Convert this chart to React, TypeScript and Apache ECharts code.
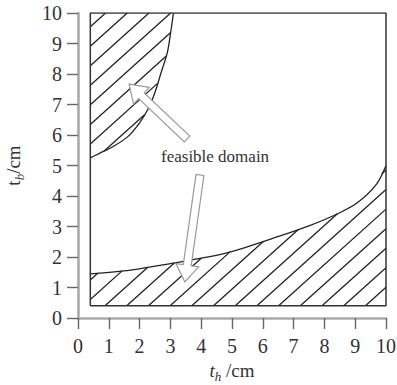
import React, { useEffect, useRef } from 'react';
import * as echarts from 'echarts';

// ---- data ----
const axisMin = 0;
const axisMax = 10;
const axisInterval = 1;

// upper-left boundary curve (t_h, t_b)
const upperCurveX = [0.4, 0.7, 1.1, 1.6, 2.0, 2.3, 2.5, 2.7, 2.9, 3.0, 3.1];
const upperCurveY = [5.25, 5.4, 5.6, 5.93, 6.4, 6.9, 7.4, 8.05, 8.7, 9.3, 10];

// lower boundary curve (t_h, t_b)
const lowerCurveX = [0.4, 1.7, 3.1, 4.0, 4.8, 5.4, 6.3, 7.5, 8.5, 9.1, 9.7, 10];
const lowerCurveY = [1.45, 1.57, 1.8, 1.96, 2.13, 2.3, 2.6, 3.02, 3.45, 3.8, 4.4, 5.0];

// design box
const boxX = [0.4, 10, 10, 0.4, 0.4];
const boxY = [0.4, 0.4, 10, 10, 0.4];

// annotation arrows (data coords)
const arrowTailX = [3.54, 3.96];
const arrowTailY = [5.87, 4.69];
const arrowTipX = [1.66, 3.47];
const arrowTipY = [7.67, 1.18];

const labelText = 'feasible domain';
const labelX = 4.45;
const labelY = 5.28;

const zip = (xs: number[], ys: number[]) => xs.map((x, i) => [x, ys[i]]);

const upperRegion = [[0.4, 10], ...zip(upperCurveX, upperCurveY)];
const lowerRegion = [[0.4, 0.4], ...zip(lowerCurveX, lowerCurveY), [10, 0.4]];
const regions = [upperRegion, lowerRegion];
const regionAnchor = [[0.4, 10], [0.4, 0.4]];
const regionOffset = [[0, 13.7], [14.7, 0]]; // px phase of the hatch

const SERIF = 'serif';

function hatchLines(poly: number[][], anchor: number[], off: number[]) {
  const th = (42 * Math.PI) / 180;
  const n = [Math.sin(th), Math.cos(th)];
  const d = [Math.cos(th), -Math.sin(th)];
  const horiz = 21.7;
  const sp = horiz * Math.sin(th);
  const dot = (a: number[], b: number[]) => a[0] * b[0] + a[1] * b[1];
  const c0 = dot(n, [anchor[0] + off[0], anchor[1] + off[1]]);
  const cs = poly.map((p) => dot(n, p));
  const cmin = Math.min(...cs);
  const cmax = Math.max(...cs);
  const k0 = Math.floor((cmin - c0) / sp);
  const k1 = Math.ceil((cmax - c0) / sp);
  const out: any[] = [];
  for (let k = k0; k <= k1; k++) {
    const c = c0 + k * sp;
    const us: number[] = [];
    for (let i = 0; i < poly.length; i++) {
      const p1 = poly[i];
      const p2 = poly[(i + 1) % poly.length];
      const s1 = dot(n, p1) - c;
      const s2 = dot(n, p2) - c;
      if ((s1 <= 0 && s2 > 0) || (s2 <= 0 && s1 > 0)) {
        const t = s1 / (s1 - s2);
        const pt = [p1[0] + t * (p2[0] - p1[0]), p1[1] + t * (p2[1] - p1[1])];
        us.push(dot(d, pt));
      }
    }
    us.sort((a, b) => a - b);
    for (let j = 0; j + 1 < us.length; j += 2) {
      const a = us[j];
      const b = us[j + 1];
      out.push({
        type: 'line',
        shape: {
          x1: c * n[0] + a * d[0],
          y1: c * n[1] + a * d[1],
          x2: c * n[0] + b * d[0],
          y2: c * n[1] + b * d[1],
        },
        style: { stroke: '#222', lineWidth: 1.3 },
      });
    }
  }
  return out;
}

function arrowPoly(tail: number[], tip: number[], w: number, h: number, L: number) {
  const dx = tip[0] - tail[0];
  const dy = tip[1] - tail[1];
  const len = Math.hypot(dx, dy);
  const u = [dx / len, dy / len];
  const v = [-u[1], u[0]];
  const B = [tip[0] - u[0] * L, tip[1] - u[1] * L];
  return [
    [tail[0] + v[0] * w, tail[1] + v[1] * w],
    [B[0] + v[0] * w, B[1] + v[1] * w],
    [B[0] + v[0] * h, B[1] + v[1] * h],
    [tip[0], tip[1]],
    [B[0] - v[0] * h, B[1] - v[1] * h],
    [B[0] - v[0] * w, B[1] - v[1] * w],
    [tail[0] - v[0] * w, tail[1] - v[1] * w],
  ];
}

export default function App() {
  const ref = useRef<HTMLDivElement>(null);
  useEffect(() => {
    if (!ref.current) return;
    const chart = echarts.init(ref.current, undefined, { renderer: 'svg' });
    const nameRich = (italicMain: boolean) => ({
      a: { fontFamily: SERIF, fontSize: 19, fontStyle: italicMain ? 'italic' : 'normal', color: '#333', verticalAlign: 'bottom', lineHeight: 20, padding: [0, 0, 3, 0] },
      b: { fontFamily: SERIF, fontSize: 13, fontStyle: 'italic', color: '#333', verticalAlign: 'bottom', lineHeight: 14 },
      c: { fontFamily: SERIF, fontSize: 19, color: '#333', verticalAlign: 'bottom', lineHeight: 20, padding: [0, 0, 3, 0] },
    });
    chart.setOption({
      animation: false,
      grid: { left: 78, right: 11, top: 13, bottom: 67, outerBoundsMode: 'none' },
      xAxis: {
        type: 'value',
        min: axisMin,
        max: axisMax,
        interval: axisInterval,
        name: '{a|t}{b|h}{c| /cm}',
        nameLocation: 'middle',
        nameGap: 44,
        nameTextStyle: { fontFamily: SERIF, fontSize: 19, color: '#333', rich: nameRich(true) },
        axisLine: { show: true, lineStyle: { color: '#aaa', width: 2.6 } },
        axisTick: { show: true, length: 11, lineStyle: { color: '#666', width: 1.4 } },
        splitLine: { show: false },
        axisLabel: { fontFamily: SERIF, fontSize: 20, color: '#333', margin: 18 },
      },
      yAxis: {
        type: 'value',
        min: axisMin,
        max: axisMax,
        interval: axisInterval,
        name: '{a|t}{b|b}{c|/cm}',
        nameLocation: 'middle',
        nameGap: 52,
        nameTextStyle: { fontFamily: SERIF, fontSize: 19, color: '#333', rich: nameRich(false) },
        axisLine: { show: true, lineStyle: { color: '#aaa', width: 2.6 } },
        axisTick: { show: true, length: 11, lineStyle: { color: '#666', width: 1.4 } },
        splitLine: { show: false },
        axisLabel: { fontFamily: SERIF, fontSize: 20, color: '#333', margin: 16 },
      },
      series: [
        {
          type: 'custom',
          name: 'hatch',
          coordinateSystem: 'cartesian2d',
          silent: true,
          clip: false,
          data: regions.map((_, i) => [i, i]),
          renderItem: (params: any, api: any) => {
            const i = params.dataIndex;
            const poly = regions[i].map((p) => api.coord(p));
            const anchor = api.coord(regionAnchor[i]);
            return { type: 'group', children: hatchLines(poly, anchor, regionOffset[i]) };
          },
          z: 2,
        },
        {
          type: 'line',
          name: 'upper',
          data: zip(upperCurveX, upperCurveY),
          smooth: 0.3,
          symbol: 'none',
          lineStyle: { color: '#222', width: 1.3 },
          z: 3,
        },
        {
          type: 'line',
          name: 'lower',
          data: zip(lowerCurveX, lowerCurveY),
          smooth: 0.3,
          symbol: 'none',
          lineStyle: { color: '#222', width: 1.3 },
          z: 3,
        },
        {
          type: 'line',
          name: 'box',
          data: zip(boxX, boxY),
          symbol: 'none',
          lineStyle: { color: '#333', width: 1.5 },
          z: 3,
        },
        {
          type: 'custom',
          name: 'arrows',
          coordinateSystem: 'cartesian2d',
          silent: true,
          clip: false,
          data: arrowTailX.map((x, i) => [x, arrowTailY[i]]),
          renderItem: (params: any, api: any) => {
            const i = params.dataIndex;
            const tail = api.coord([arrowTailX[i], arrowTailY[i]]);
            const tip = api.coord([arrowTipX[i], arrowTipY[i]]);
            return {
              type: 'polygon',
              shape: { points: arrowPoly(tail, tip, 4, 11.5, 17) },
              style: { fill: '#fff', stroke: '#999', lineWidth: 1.2 },
            };
          },
          z: 10,
        },
      ],
    });
    const lp = chart.convertToPixel({ gridIndex: 0 }, [labelX, labelY]) as number[];
    chart.setOption({
      graphic: [
        {
          type: 'text',
          x: lp[0],
          y: lp[1],
          z: 20,
          silent: true,
          style: {
            text: labelText,
            fontFamily: SERIF,
            fontSize: 17,
            fill: '#333',
            align: 'center',
            verticalAlign: 'middle',
          },
        },
      ],
    });
    return () => chart.dispose();
  }, []);
  return (
    <div
      ref={ref}
      style={{ position: 'fixed', left: 0, top: 0, width: 397, height: 385, background: '#fff' }}
    />
  );
}
